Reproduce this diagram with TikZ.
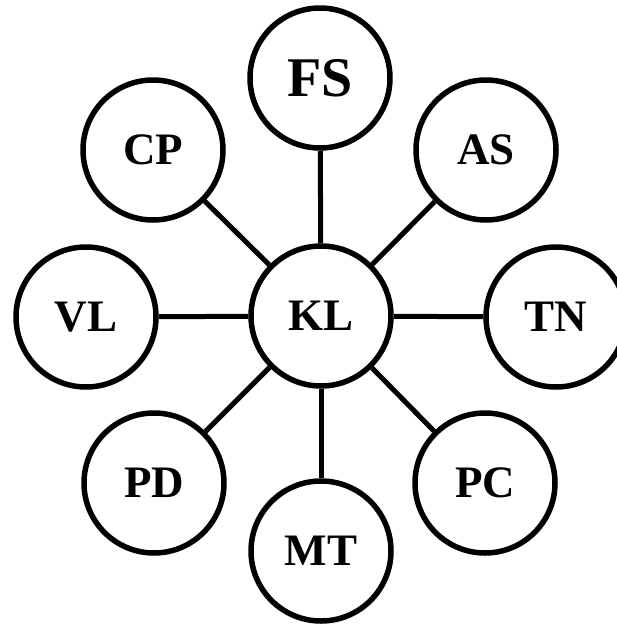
\documentclass[tikz,border=0pt]{standalone}
\usepackage{fontspec}
\setmainfont{Liberation Serif}
\tikzset{
  cnode/.style={draw=black, circle, line width=5.5pt, minimum size=140pt, inner sep=0pt, fill=white,
    font=\fontsize{45}{45}\selectfont\bfseries},
  bignode/.style={cnode, font=\fontsize{56}{56}\selectfont\bfseries},
  link/.style={line width=5pt}
}
\begin{document}
\begin{tikzpicture}[x=1pt,y=-1pt]
\useasboundingbox (0,0) rectangle (616,624);
\node[cnode] (KL) at (321,316) {KL};
\node[bignode] (FS) at (320,78) {FS};
\node[cnode] (CP) at (153,150) {CP};
\node[cnode] (AS) at (486,150) {AS};
\node[cnode] (VL) at (86,317) {VL};
\node[cnode] (TN) at (556,317) {TN};
\node[cnode] (PD) at (154,483) {PD};
\node[cnode] (PC) at (485,483) {PC};
\node[cnode] (MT) at (321,551) {MT};
\foreach \n in {FS,CP,AS,VL,TN,PD,PC,MT}{
  \draw[link] (KL) -- (\n);
}
\end{tikzpicture}
\end{document}
